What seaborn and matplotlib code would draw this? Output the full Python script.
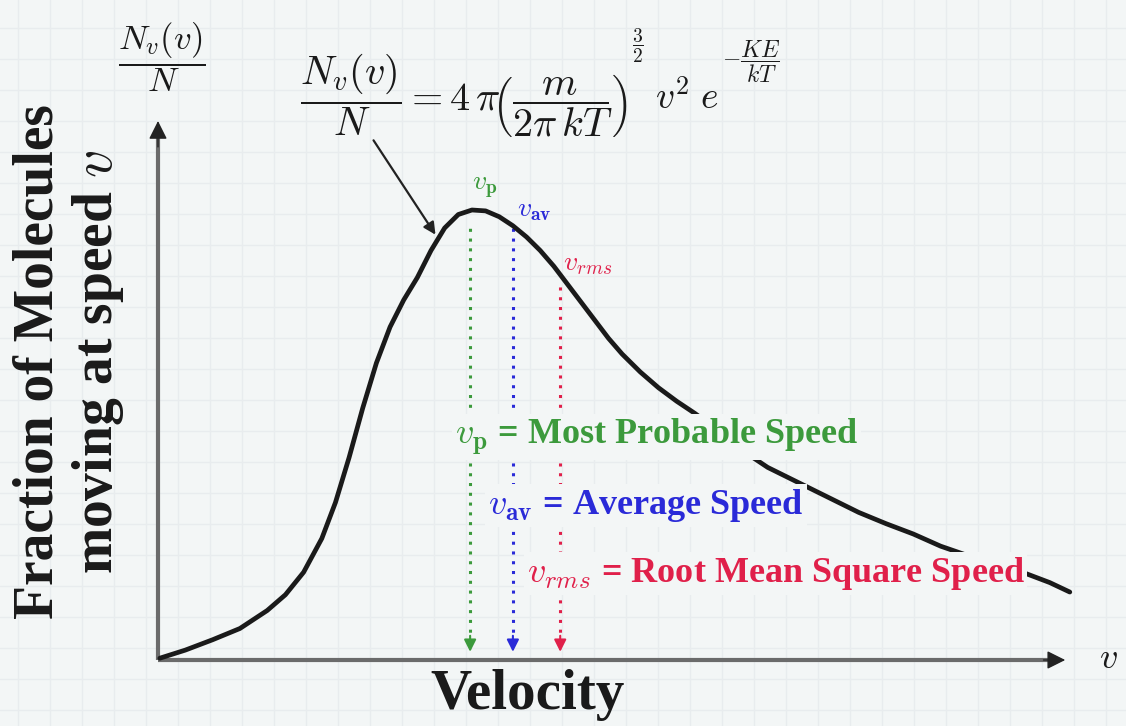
import numpy as np
import pandas as pd
import matplotlib
matplotlib.use("Agg")
import matplotlib.pyplot as plt
import seaborn as sns

# ---- data (arbitrary units) ----
velocity = [0.02, 0.3, 0.6, 0.9, 1.2, 1.4, 1.6, 1.8, 1.95, 2.1, 2.25, 2.4, 2.55, 2.7,
            2.85, 3.0, 3.15, 3.3, 3.45, 3.6, 3.75, 3.9, 4.05, 4.2, 4.35, 4.5, 4.65,
            4.8, 4.95, 5.1, 5.3, 5.5, 5.7, 5.9, 6.1, 6.3, 6.5, 6.7, 6.9, 7.1, 7.4,
            7.7, 8.0, 8.3, 8.6, 8.9, 9.2, 9.5, 9.8, 10.02]
fraction = [0.004, 0.022, 0.045, 0.070, 0.110, 0.145, 0.195, 0.270, 0.350, 0.450,
            0.560, 0.660, 0.740, 0.800, 0.850, 0.910, 0.960, 0.990, 1.000, 0.998,
            0.985, 0.965, 0.940, 0.910, 0.875, 0.835, 0.795, 0.755, 0.715, 0.680,
            0.640, 0.605, 0.575, 0.548, 0.518, 0.487, 0.455, 0.428, 0.408, 0.388,
            0.358, 0.328, 0.303, 0.280, 0.253, 0.232, 0.215, 0.195, 0.172, 0.151]
speed_names = ["p", "av", "rms"]
speed_values = [3.43, 3.90, 4.42]
speed_tops = [0.971, 0.960, 0.833]
speed_colors = ["#3c9a3c", "#2a2ad8", "#e0204a"]
speed_labels = [r"$v_{\mathbf{p}}$", r"$v_{\mathbf{av}}$", r"$v_{rms}$"]
speed_desc = ["Most Probable Speed", "Average Speed", "Root Mean Square Speed"]

df = pd.DataFrame({"v": velocity, "f": fraction})

sns.set_theme(style="white")
plt.rcParams["font.family"] = ["Liberation Serif", "DejaVu Serif"]
plt.rcParams["mathtext.fontset"] = "cm"

BG = "#f3f6f6"
W, H = 1126, 726
fig = plt.figure(figsize=(W / 100, H / 100), dpi=100, facecolor=BG)
ax = fig.add_axes([0, 0, 1, 1], facecolor=BG)
SX, SY = 91.0, 450.0
OX, OY = 158, 660
ax.set_xlim(-OX / SX, (W - OX) / SX)
ax.set_ylim((OY - H) / SY, OY / SY)
for s in ax.spines.values():
    s.set_visible(False)


def P(px, py):
    """pixel position of a text anchor -> data coords"""
    return (px - OX) / SX, (OY - py) / SY


# faint graph-paper grid
gx = (np.arange(18, W, 32) - OX) / SX
gy = (OY - np.arange(28, H, 31)) / SY
for x in gx:
    ax.axvline(x, color="#e8ecee", lw=1.0, zorder=0)
for y in gy:
    ax.axhline(y, color="#e8ecee", lw=1.0, zorder=0)
ax.set_xticks([])
ax.set_yticks([])

# axes with arrows
x_end, y_end = 10.0, 1.204
ax.plot([0, x_end - 0.1], [0, 0], color="#6b6b6b", lw=3, zorder=2, solid_capstyle="butt")
ax.plot([0, 0], [0, y_end - 0.03], color="#6b6b6b", lw=3, zorder=2, solid_capstyle="butt")
ax.annotate("", xy=(x_end, 0), xytext=(x_end - 0.3, 0),
            arrowprops=dict(arrowstyle="-|>", color="#222222", lw=1, mutation_scale=28), zorder=3)
ax.annotate("", xy=(0, y_end), xytext=(0, y_end - 0.07),
            arrowprops=dict(arrowstyle="-|>", color="#222222", lw=1, mutation_scale=28), zorder=3)

# distribution curve
sns.lineplot(data=df, x="v", y="f", ax=ax, color="#1a1a1a", lw=3.4, zorder=4, legend=False)
for ln in ax.lines[-1:]:
    ln.set_solid_joinstyle("round")
    ln.set_solid_capstyle("round")
ax.set_xlabel("")
ax.set_ylabel("")

# dotted speed markers with arrow heads
for xv, top, c in zip(speed_values, speed_tops, speed_colors):
    ax.plot([xv, xv], [0.04, top], color=c, lw=2.2, ls=(0, (1, 2.2)), zorder=3)
    ax.annotate("", xy=(xv, 0.012), xytext=(xv, 0.06),
                arrowprops=dict(arrowstyle="-|>", color=c, lw=1.5, mutation_scale=18), zorder=3)

# small labels near the peak
top_pos = [(3.59, 1.049), (4.14, 0.998), (4.72, 0.878)]
for (tx, ty), lab, c in zip(top_pos, speed_labels, speed_colors):
    ax.text(tx, ty, lab, color=c, fontsize=20, ha="center", va="center", zorder=5)

# descriptive legend lines (with background boxes that break the curve)
desc_pos = [(3.26, 0.496), (3.63, 0.344), (4.05, 0.193)]
for (tx, ty), lab, d, c in zip(desc_pos, speed_labels, speed_desc, speed_colors):
    ax.text(tx, ty, lab + " = " + d, color=c, fontsize=26, fontweight="bold",
            ha="left", va="center", zorder=6,
            bbox=dict(boxstyle="square,pad=0.08", fc=BG, ec="none"))

# formula (built from pieces to follow the reference proportions)
fc = "#1a1a1a"
ax.text(*P(300, 96), r"$\dfrac{N_v(v)}{N} = 4\,\pi\!\left(\dfrac{m}{2\pi\, kT}\right)$",
        fontsize=29, ha="left", va="center", color=fc, zorder=6)
ax.text(*P(638, 46), r"$\dfrac{3}{2}$", fontsize=14, ha="center", va="center", color=fc)
ax.text(*P(655, 98), r"$v^2\;e$", fontsize=27, ha="left", va="center", color=fc)
ax.text(*P(722, 62), r"$-\dfrac{KE}{kT}$", fontsize=17, ha="left", va="center", color=fc)
ax.annotate("", xy=((437 - OX) / SX, (OY - 237) / SY), xytext=((372 - OX) / SX, (OY - 138) / SY),
            arrowprops=dict(arrowstyle="-|>", color="#222222", lw=1.6, mutation_scale=18), zorder=6)

# axis labels
ax.text(*P(162, 57), r"$\dfrac{N_v(v)}{N}$", fontsize=25,
        ha="center", va="center", color=fc)
ax.text(*P(69, 362), "Fraction of Molecules\nmoving at speed $v$",
        rotation=90, fontsize=40, fontweight="bold", ha="center", va="center",
        linespacing=1.12, color=fc)
ax.text(*P(527, 695), "Velocity", fontsize=41, fontweight="bold",
        ha="center", va="center", color=fc)
ax.text(*P(1108, 660), "$v$", fontsize=26, ha="center", va="center", color=fc)

fig.savefig("out.png", dpi=100, facecolor=BG)
